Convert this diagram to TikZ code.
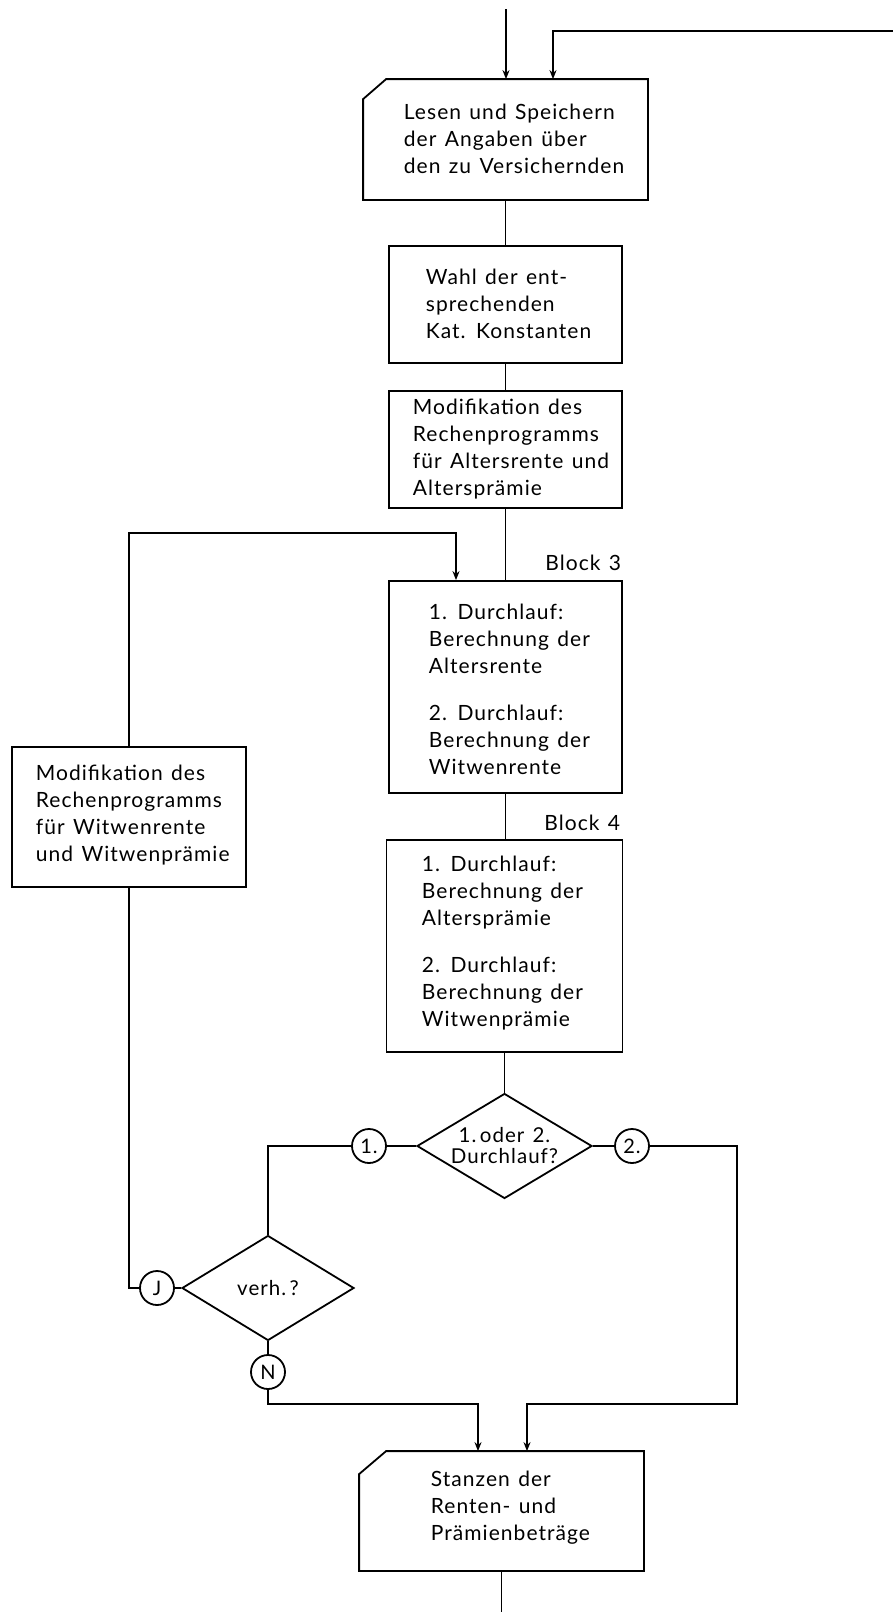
\documentclass[tikz,border=0pt]{standalone}
\usepackage{fontspec}
\setmainfont{Lato}[LetterSpace=5,WordSpace=1.3]
\usetikzlibrary{shapes.geometric,arrows.meta}
\begin{document}
\begin{tikzpicture}[x=1pt,y=-1pt,
  line width=1.8pt,
  every node/.style={inner sep=0pt},
  shapebox/.style={draw=none, rectangle},
  plainbox/.style={draw, rectangle},
  txt/.style={anchor=west, align=left, font=\fontsize{21}{27}\selectfont},
  arr/.style={-{Stealth[length=9pt,width=7pt]}},
  decision/.style={draw, diamond, inner sep=-12pt, minimum width=175pt, minimum height=105pt, align=center, font=\fontsize{20.5}{21}\selectfont},
  conncirc/.style={draw, circle, minimum size=34pt, font=\fontsize{20}{20}\selectfont},
  blocklabel/.style={anchor=east, font=\fontsize{21}{21}\selectfont}
]
\path[use as bounding box] (0,0) rectangle (893,1612);

% --- input box (cut corner)
\node[shapebox, minimum width=283pt, minimum height=119pt] (lesen) at (505.5,139.5) {};
\draw (lesen.south west) -- ([yshift=-20pt]lesen.north west) -- ([xshift=23pt]lesen.north west) -- (lesen.north east) -- (lesen.south east) -- cycle;
\node[txt] (tlesen) at (403,139) {Lesen und Speichern\\der Angaben über\\den zu Versichernden};

% --- process boxes
\node[plainbox, minimum width=233pt, minimum height=117pt] (wahl) at (505.5,304.5) {};
\node[txt] (twahl) at (425,304) {Wahl der ent-\\sprechenden\\Kat. Konstanten};

\node[plainbox, minimum width=233pt, minimum height=117pt] (mod1) at (505.5,449.5) {};
\node[txt] (tmod1) at (412,449) {Modifikation des\\Rechenprogramms\\für Altersrente und\\Altersprämie};

\node[plainbox, minimum width=233pt, minimum height=212pt] (block3) at (505.5,687) {};
\node[txt] (tblock3) at (428,689) {1. Durchlauf:\\Berechnung der\\Altersrente\\[20pt]2. Durchlauf:\\Berechnung der\\Witwenrente};
\node[blocklabel] (b3) at (622,563) {Block 3};

\node[plainbox, minimum width=236pt, minimum height=212pt] (block4) at (504.5,946) {};
\node[txt] (tblock4) at (421,943) {1. Durchlauf:\\Berechnung der\\Altersprämie\\[20pt]2. Durchlauf:\\Berechnung der\\Witwenprämie};
\node[blocklabel] (b4) at (621,823) {Block 4};

\node[plainbox, minimum width=234pt, minimum height=140pt] (leftbox) at (129,817) {};
\node[txt] (tleft) at (35,815) {Modifikation des\\Rechenprogramms\\für Witwenrente\\und Witwenprämie};

% --- decisions and connectors
\node[decision] (dia1) at (504.5,1146) {1.\,oder 2.\\Durchlauf?};
\node[decision, minimum width=172pt] (dia2) at (268,1288) {verh.\,?};
\node[conncirc] (c1) at (369,1146) {1.};
\node[conncirc] (c2) at (632,1146) {2.};
\node[conncirc] (cJ) at (157,1288) {J};
\node[conncirc] (cN) at (268,1372) {N};

% --- output box (cut corner)
\node[shapebox, minimum width=283pt, minimum height=118pt] (stanzen) at (501.5,1511) {};
\draw (stanzen.south west) -- ([yshift=-23pt]stanzen.north west) -- ([xshift=27pt]stanzen.north west) -- (stanzen.north east) -- (stanzen.south east) -- cycle;
\node[txt] (tstanzen) at (430,1508) {Stanzen der\\Renten- und\\Prämienbeträge};

% --- connectors
\coordinate (in1) at (506,9);
\draw[arr] (in1) -- (in1 |- lesen.north);
\coordinate (ret) at (893,31);
\coordinate (retc) at (553,31);
\draw[arr] (ret) -- (retc) -- (retc |- lesen.north);
\draw (lesen.south) -- (lesen.south |- wahl.north);
\draw (wahl.south) -- (wahl.south |- mod1.north);
\draw (mod1.south) -- (mod1.south |- block3.north);
\draw (block3.south) -- (block3.south |- block4.north);
\draw (block4.south) -- (block4.south |- dia1.north);
\draw (dia1.west) -- (c1.east);
\draw (c1.west) -| (dia2.north);
\draw (dia1.east) -- (c2.west);
\coordinate (r2) at (737,1404);
\coordinate (s2) at (527,1404);
\draw[arr] (c2.east) -| (r2) -- (s2) -- (s2 |- stanzen.north);
\draw (dia2.west) -- (cJ.east);
\draw (cJ.west) -| (leftbox.south);
\coordinate (loopc) at (456,533);
\draw[arr] (leftbox.north) |- (loopc) -- (loopc |- block3.north);
\draw (dia2.south) -- (cN.north);
\coordinate (s1) at (478,1404);
\draw[arr] (cN.south) |- (s1) -- (s1 |- stanzen.north);
\coordinate (out) at (501.5,1612);
\draw (stanzen.south) -- (out);
\end{tikzpicture}
\end{document}
